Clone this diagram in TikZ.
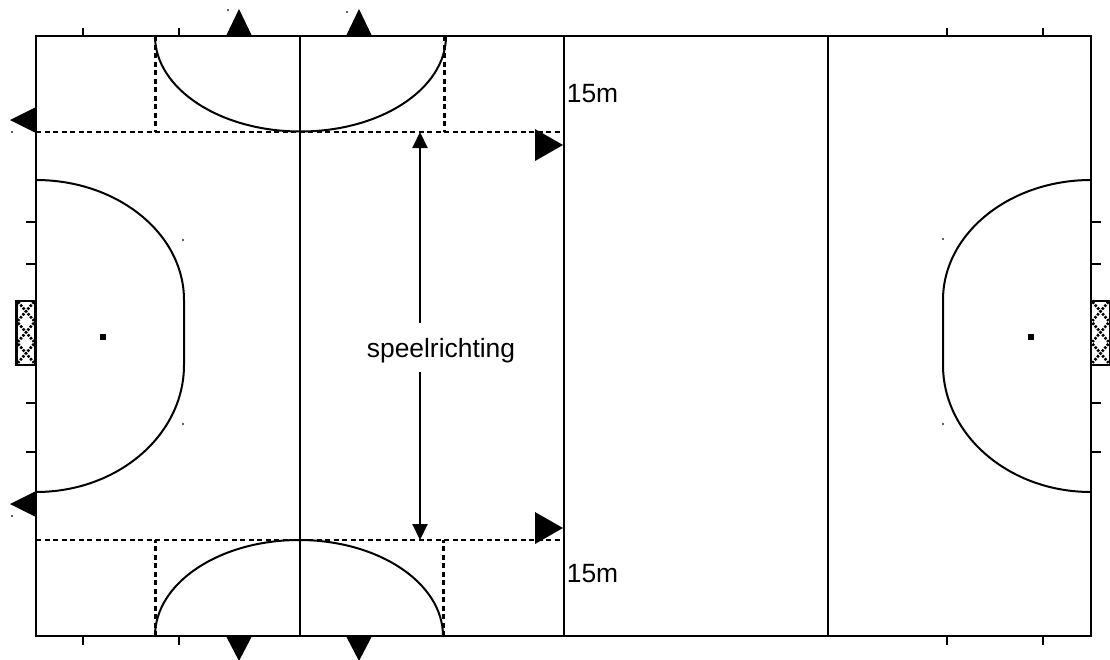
\documentclass[tikz,border=0pt]{standalone}
\usepackage{fontspec}
\setmainfont{Liberation Sans}
\usetikzlibrary{arrows.meta}
\tikzstyle{lijn} = [line width=2.1pt,black,line cap=butt]
\tikzstyle{boog} = [line width=2pt,black]
\tikzstyle{stippel} = [line width=2.6pt,black,dash pattern=on 5pt off 3.5pt]
\tikzstyle{driehoek} = [fill=black,draw=none]
\tikzstyle{stip} = [fill=black,draw=none,minimum size=6pt,inner sep=0pt,rectangle]
\tikzstyle{spikkel} = [fill=black!60,draw=none,minimum size=1.2pt,inner sep=0pt,rectangle]
\tikzstyle{tekst} = [font=\fontsize{26.4}{30}\selectfont,text=black,inner sep=0pt,anchor=base]
\tikzstyle{doel} = [draw=black,line width=2.4pt,fill=white,minimum width=19pt,minimum height=64pt,inner sep=0pt,rectangle]
\tikzstyle{arrow} = [line width=2pt,-{Triangle[length=16pt,width=15pt]}]
\begin{document}
\begin{tikzpicture}[x=1pt,y=-1pt]
 \useasboundingbox (0,0) rectangle (1110,659);
 \coordinate (nw) at (36,36);
 \coordinate (se) at (1091,636);
% dotted zones
 \draw[stippel] (36,132) -- (563,132);
 \draw[stippel] (36,540) -- (563,540);
 \draw[stippel] (155.5,36) -- (155.5,132) (444.5,36) -- (444.5,132);
 \draw[stippel] (155.5,636) -- (155.5,540) (443.5,636) -- (443.5,540);
% field
 \draw[lijn] (nw) rectangle (se);
 \foreach \x in {300,564,828}
   \draw[lijn] (\x,36) -- (\x,636);
% ticks
 \foreach \x in {83,179,947,1043} {
   \draw[lijn] (\x,28) -- (\x,36);
   \draw[lijn] (\x,636) -- (\x,645);
 }
 \foreach \y in {222,264,403,452} {
   \draw[lijn] (26,\y) -- (36,\y);
   \draw[lijn] (1091,\y) -- (1101,\y);
 }
% arcs
 \draw[boog] (155,36) arc[start angle=180,end angle=360,x radius=145.5,y radius=-95.5];
 \draw[boog] (155,636) arc[start angle=180,end angle=360,x radius=144,y radius=96];
 \draw[boog] (36,180) arc[start angle=90,end angle=0,x radius=148,y radius=-120]
             -- (184,365) arc[start angle=0,end angle=-90,x radius=148,y radius=-127];
 \draw[boog] (1091,180) arc[start angle=90,end angle=180,x radius=148,y radius=-120]
             -- (943,365) arc[start angle=180,end angle=270,x radius=148,y radius=-127];
% triangles
 \foreach \x in {239,359} {
   \fill[driehoek] (\x,9) -- (\x-13,36) -- (\x+13,36) -- cycle;
   \fill[driehoek] (\x,661) -- (\x-13,636) -- (\x+13,636) -- cycle;
 }
 \foreach \y in {120,504} 
   \fill[driehoek] (10,\y) -- (36,\y-13) -- (36,\y+13) -- cycle;
 \foreach \y in {145,528} 
   \fill[driehoek] (563,\y) -- (535,\y-16) -- (535,\y+16) -- cycle;
% goals
 \node[doel] (doelL) at (26,333) {};
 \node[doel] (doelR) at (1100.5,333) {};
 \foreach \g in {doelL,doelR} 
   \foreach \k in {0,1,2}
     \draw[line width=2.6pt,dash pattern=on 2.4pt off 1.4pt,shift={(\g.north)}]
       (-8,\k*21+2) -- (8,\k*21+21) (8,\k*21+2) -- (-8,\k*21+21);
% spots
 \node[stip] (spotL) at (103,337) {};
 \node[stip] (spotR) at (1031,337) {};
 \foreach \x/\y [count=\i] in {228/10,347/12,12/132,12/516,183/240,183/424,943/239,943/424}
   \node[spikkel] (sp\i) at (\x,\y) {};
% labels
 \node[tekst] (boven) at (592.5,102) {15m};
 \node[tekst] (onder) at (592.5,582) {15m};
 \node[tekst] (richting) at (441,357) {speelrichting};
% arrows
 \coordinate (pijlboven) at (420,132);
 \coordinate (pijlonder) at (420,540);
 \draw[arrow] (420,323) -- (pijlboven);
 \draw[arrow] (420,372) -- (pijlonder);
\end{tikzpicture}
\end{document}
